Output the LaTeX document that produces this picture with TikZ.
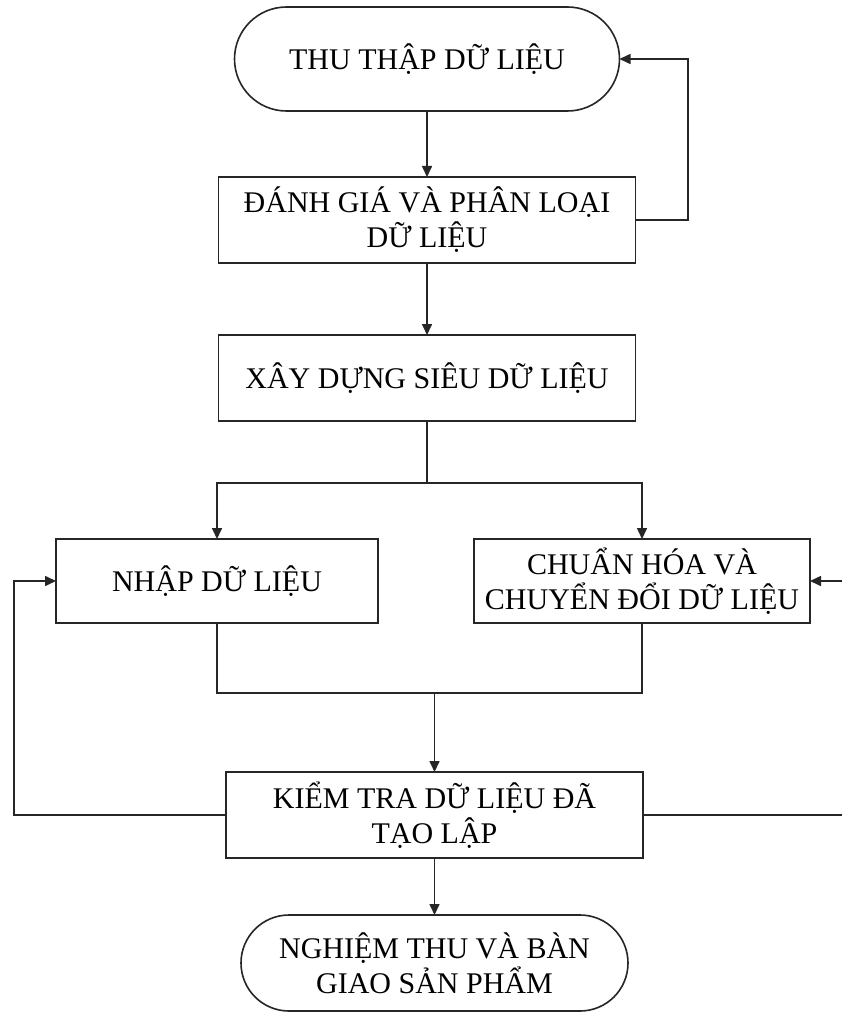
\documentclass[tikz,border=0pt]{standalone}
\usepackage{fontspec}
\setmainfont{Liberation Serif}
\usetikzlibrary{arrows.meta,shapes.misc}
\begin{document}
\begin{tikzpicture}[x=1pt,y=-1pt,
  every node/.style={inner sep=0pt, outer sep=0pt, align=center, text=black,
    font=\fontsize{30}{35}\selectfont},
  ln/.style={draw=black!85, line width=1.6pt},
  box/.style={ln, rectangle, fill=white},
  term/.style={ln, rounded rectangle, fill=white},
  arr/.style={ln, -{Triangle[length=11pt,width=10pt]}}
]
\useasboundingbox (0,0) rectangle (842,1016);
\clip (0,0) rectangle (842,1016);
\fill[white] (0,0) rectangle (842,1016);

\node[term, minimum width=385pt, minimum height=104pt] (t1) at (427,59) {THU THẬP DỮ LIỆU};
\node[box, minimum width=417pt, minimum height=86pt] (b2) at (427,220) {ĐÁNH GIÁ VÀ PHÂN LOẠI\\DỮ LIỆU};
\node[box, minimum width=417pt, minimum height=86pt] (b3) at (427,378) {XÂY DỰNG SIÊU DỮ LIỆU};
\node[box, minimum width=322pt, minimum height=84pt] (b4) at (217,581) {NHẬP DỮ LIỆU};
\node[box, minimum width=336pt, minimum height=84pt] (b5) at (642,581) {CHUẨN HÓA VÀ\\CHUYỂN ĐỔI DỮ LIỆU};
\node[box, minimum width=417pt, minimum height=86pt] (b6) at (434.5,815) {KIỂM TRA DỮ LIỆU ĐÃ\\TẠO LẬP};
\node[term, minimum width=387pt, minimum height=96pt] (t2) at (434.5,963) {NGHIỆM THU VÀ BÀN\\GIAO SẢN PHẨM};

\coordinate (c1) at (688,59);
\coordinate (s1) at (427,483);
\coordinate (j1) at (434.5,693);
\coordinate (l1) at (14,581);
\coordinate (r2) at (870,581);

\draw[arr] (t1.south) -- (b2.north);
\draw[arr] (b2.east) -| (c1) -- (t1.east);
\draw[arr] (b2.south) -- (b3.north);
\draw[ln] (b3.south) -- (s1);
\draw[arr] (s1) -| (b4.north);
\draw[arr] (s1) -| (b5.north);
\draw[ln] (b4.south) |- (j1);
\draw[ln] (b5.south) |- (j1);
\draw[arr] (j1) -- (b6.north);
\draw[arr] (b6.west) -| (l1) -- (b4.west);
\draw[arr] (b6.east) -| (r2) -- (b5.east);
\draw[arr] (b6.south) -- (t2.north);
\end{tikzpicture}
\end{document}
